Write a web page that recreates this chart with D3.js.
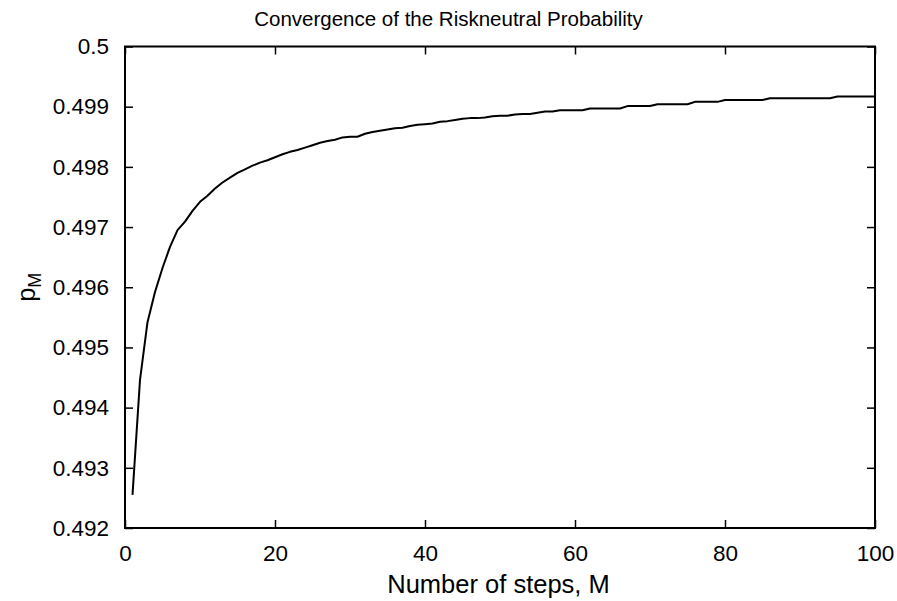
<!DOCTYPE html>
<html>
<head>
<meta charset="utf-8">
<script src="https://cdn.jsdelivr.net/npm/d3@7"></script>
<style>
html,body{margin:0;padding:0;background:#fff;}
svg{display:block;font-family:"Liberation Sans",Arial,Helvetica,sans-serif;}
</style>
</head>
<body>
<svg id="chart" width="897" height="601"></svg>
<script>
// Number of steps M = 1..100
const steps = d3.range(1, 101);
// Risk-neutral probability p_M
const pValues = [
  0.49255, 0.49446, 0.49542, 0.49592, 0.49632, 0.49667, 0.49695, 0.49709, 0.49727, 0.49742,
  0.49752, 0.49764, 0.49774, 0.49782, 0.49790, 0.49796, 0.49802, 0.49807, 0.49811, 0.49816,
  0.49821, 0.49825, 0.49828, 0.49832, 0.49836, 0.49840, 0.49843, 0.49845, 0.49849, 0.49850,
  0.49850, 0.49855, 0.49858, 0.49860, 0.49862, 0.49864, 0.49865, 0.49868, 0.49870, 0.49871,
  0.49872, 0.49875, 0.49876, 0.49878, 0.49880, 0.49881, 0.49881, 0.49882, 0.49884, 0.49885,
  0.49885, 0.49887, 0.49888, 0.49888, 0.49890, 0.49892, 0.49892, 0.49894, 0.49894, 0.49894,
  0.49894, 0.49897, 0.49897, 0.49897, 0.49897, 0.49897, 0.49901, 0.49901, 0.49901, 0.49901,
  0.49904, 0.49904, 0.49904, 0.49904, 0.49904, 0.49908, 0.49908, 0.49908, 0.49908, 0.49911,
  0.49911, 0.49911, 0.49911, 0.49911, 0.49911, 0.49914, 0.49914, 0.49914, 0.49914, 0.49914,
  0.49914, 0.49914, 0.49914, 0.49914, 0.49917, 0.49917, 0.49917, 0.49917, 0.49917, 0.49917
];
const xTicks = [0, 20, 40, 60, 80, 100];
const yTicks = [0.492, 0.493, 0.494, 0.495, 0.496, 0.497, 0.498, 0.499, 0.5];
const titleText = "Convergence of the Riskneutral Probability";
const xLabelText = "Number of steps, M";

const svg = d3.select("#chart");
const L = 125, R = 875, T = 46.5, B = 528;
const x = d3.scaleLinear().domain([0, 100]).range([L, R]);
const y = d3.scaleLinear().domain([0.492, 0.5]).range([B, T]);
const fs = 22.5, tickLen = 8;

// bottom axis
const gx = svg.append("g").attr("transform", `translate(0,${B})`)
  .call(d3.axisBottom(x).tickValues(xTicks).tickFormat(d3.format("d")).tickSizeInner(-tickLen).tickSizeOuter(0).tickPadding(17));
// top axis
const gxt = svg.append("g").attr("transform", `translate(0,${T})`)
  .call(d3.axisTop(x).tickValues(xTicks).tickFormat("").tickSizeInner(-tickLen).tickSizeOuter(0));
// left axis
const gy = svg.append("g").attr("transform", `translate(${L},0)`)
  .call(d3.axisLeft(y).tickValues(yTicks).tickFormat(d => d === 0.5 ? "0.5" : d3.format(".3f")(d)).tickSizeInner(-tickLen).tickSizeOuter(0).tickPadding(16));
// right axis
const gyr = svg.append("g").attr("transform", `translate(${R},0)`)
  .call(d3.axisRight(y).tickValues(yTicks).tickFormat("").tickSizeInner(-tickLen).tickSizeOuter(0));

[gx, gxt, gy, gyr].forEach(g => {
  g.select(".domain").remove();
  g.selectAll(".tick line").attr("stroke", "#000").attr("stroke-width", 1.5);
  g.selectAll(".tick text").attr("fill", "#000").attr("font-size", fs)
    .attr("font-family", "'Liberation Sans', Arial, sans-serif");
});

// box
svg.append("rect").attr("x", L).attr("y", T).attr("width", R - L).attr("height", B - T)
  .attr("fill", "none").attr("stroke", "#000").attr("stroke-width", 2);

// data line
const line = d3.line().x((d, i) => x(steps[i])).y(d => y(d));
svg.append("path").datum(pValues).attr("d", line)
  .attr("fill", "none").attr("stroke", "#000").attr("stroke-width", 2).attr("stroke-linejoin", "round");

// title
svg.append("text").attr("x", 448.5).attr("y", 25.5).attr("text-anchor", "middle")
  .attr("font-size", 20.5).attr("fill", "#000").text(titleText);

// x label
svg.append("text").attr("x", 498.5).attr("y", 593).attr("text-anchor", "middle")
  .attr("font-size", 25.5).attr("fill", "#000").text(xLabelText);

// y label p_M
const yl = svg.append("text").attr("transform", `translate(35,${(T + B) / 2}) rotate(-90)`)
  .attr("text-anchor", "middle").attr("font-size", 25.5).attr("fill", "#000");
yl.append("tspan").text("p");
yl.append("tspan").attr("dy", 6).attr("font-size", 18).text("M");
</script>
</body>
</html>
